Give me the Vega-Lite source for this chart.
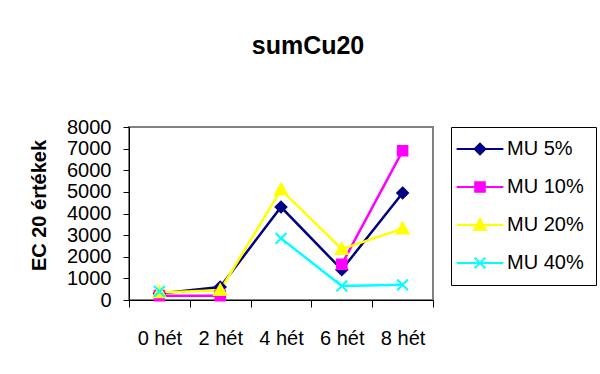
{
  "$schema": "https://vega.github.io/schema/vega-lite/v6.json",
  "width": 304,
  "height": 173,
  "padding": {"left": 29, "top": 34, "right": 3, "bottom": 5},
  "background": "white",
  "config": {
    "font": "Liberation Sans",
    "view": {"stroke": "#808080", "strokeWidth": 2}
  },
  "title": {
    "text": "sumCu20",
    "fontSize": 25,
    "fontWeight": "bold",
    "color": "black",
    "anchor": "middle",
    "dx": 27,
    "offset": 58
  },
  "data": {
    "values": [
      {"week": "0 hét", "series": "MU 5%", "value": 300},
      {"week": "2 hét", "series": "MU 5%", "value": 600},
      {"week": "4 hét", "series": "MU 5%", "value": 4300},
      {"week": "6 hét", "series": "MU 5%", "value": 1400},
      {"week": "8 hét", "series": "MU 5%", "value": 4950},
      {"week": "0 hét", "series": "MU 10%", "value": 200},
      {"week": "2 hét", "series": "MU 10%", "value": 200},
      {"week": "4 hét", "series": "MU 10%", "value": null},
      {"week": "6 hét", "series": "MU 10%", "value": 1650},
      {"week": "8 hét", "series": "MU 10%", "value": 6900},
      {"week": "0 hét", "series": "MU 20%", "value": 350},
      {"week": "2 hét", "series": "MU 20%", "value": 450},
      {"week": "4 hét", "series": "MU 20%", "value": 5100},
      {"week": "6 hét", "series": "MU 20%", "value": 2350},
      {"week": "8 hét", "series": "MU 20%", "value": 3300},
      {"week": "0 hét", "series": "MU 40%", "value": 400},
      {"week": "2 hét", "series": "MU 40%", "value": null},
      {"week": "4 hét", "series": "MU 40%", "value": 2850},
      {"week": "6 hét", "series": "MU 40%", "value": 650},
      {"week": "8 hét", "series": "MU 40%", "value": 700}
    ]
  },
  "encoding": {
    "x": {
      "field": "week",
      "type": "ordinal",
      "sort": ["0 hét", "2 hét", "4 hét", "6 hét", "8 hét"],
      "scale": {"type": "band", "paddingInner": 0, "paddingOuter": 0},
      "axis": {
        "title": null,
        "tickBand": "extent",
        "labelAngle": 0,
        "labelFontSize": 20,
        "labelColor": "black",
        "tickSize": 7,
        "labelPadding": 21,
        "domainColor": "black",
        "tickColor": "black",
        "grid": false
      }
    },
    "y": {
      "field": "value",
      "type": "quantitative",
      "scale": {"domain": [0, 8000], "nice": false},
      "axis": {
        "title": "EC 20 értékek",
        "titleFontSize": 20,
        "titleFontWeight": "bold",
        "titleColor": "black",
        "titlePadding": 17,
        "titleY": 78,
        "values": [0, 1000, 2000, 3000, 4000, 5000, 6000, 7000, 8000],
        "format": "d",
        "labelFontSize": 20,
        "labelColor": "black",
        "labelOverlap": false,
        "labelFlush": false,
        "tickSize": 6,
        "labelPadding": 12,
        "grid": false,
        "domainColor": "black",
        "tickColor": "black"
      }
    }
  },
  "layer": [
    {
      "mark": {"type": "line", "strokeWidth": 2.5, "invalid": "break-paths-show-domains"},
      "encoding": {
        "color": {
          "field": "series",
          "type": "nominal",
          "scale": {
            "domain": ["MU 5%", "MU 10%", "MU 20%", "MU 40%"],
            "range": ["#000080", "#FF00FF", "#FFFF00", "#00FFFF"]
          },
          "legend": {
            "title": null,
            "orient": "right",
            "offset": 18,
            "padding": 12,
            "strokeColor": "black",
            "fillColor": "white",
            "labelFontSize": 20,
            "labelColor": "black",
            "symbolSize": 144,
            "symbolOffset": 7,
            "labelOffset": 17,
            "rowPadding": 18,
            "symbolStrokeWidth": 2,
            "symbolOpacity": 1,
            "encode": {
              "symbols": {
                "update": {
                  "shape": {"signal": "datum.value === 'MU 5%' ? 'M-3.9,0L3.9,0M0,-0.9L0.9,0L0,0.9L-0.9,0Z' : datum.value === 'MU 10%' ? 'M-3.9,0L3.9,0M-0.8,-0.8L0.8,-0.8L0.8,0.8L-0.8,0.8Z' : datum.value === 'MU 20%' ? 'M-3.9,0L3.9,0M0,-1L1,0.8L-1,0.8Z' : 'M-3.9,0L3.9,0M-0.9,-0.9L0.9,0.9M-0.9,0.9L0.9,-0.9'"},
                  "fill": {"scale": "color", "field": "value"},
                  "stroke": {"scale": "color", "field": "value"},
                  "strokeWidth": {"value": 2},
                  "opacity": {"value": 1}
                }
              }
            }
          }
        }
      }
    },
    {
      "transform": [{"filter": "datum.series === 'MU 5%'"}],
      "mark": {"type": "point", "shape": "M0,-0.9L0.9,0L0,0.9L-0.9,0Z", "filled": true, "fill": "#000080", "stroke": "#000080", "opacity": 1, "strokeWidth": 2, "size": 144}
    },
    {
      "transform": [{"filter": "datum.series === 'MU 10%'"}],
      "mark": {"type": "point", "shape": "M-0.8,-0.8L0.8,-0.8L0.8,0.8L-0.8,0.8Z", "filled": true, "fill": "#FF00FF", "stroke": "#FF00FF", "opacity": 1, "strokeWidth": 2, "size": 144}
    },
    {
      "transform": [{"filter": "datum.series === 'MU 20%'"}],
      "mark": {"type": "point", "shape": "M0,-1L1,0.8L-1,0.8Z", "filled": true, "fill": "#FFFF00", "stroke": "#FFFF00", "opacity": 1, "strokeWidth": 2, "size": 144}
    },
    {
      "transform": [{"filter": "datum.series === 'MU 40%'"}],
      "mark": {"type": "point", "shape": "M-0.9,-0.9L0.9,0.9M-0.9,0.9L0.9,-0.9", "filled": false, "stroke": "#00FFFF", "opacity": 1, "strokeWidth": 2, "size": 144}
    }
  ]
}
